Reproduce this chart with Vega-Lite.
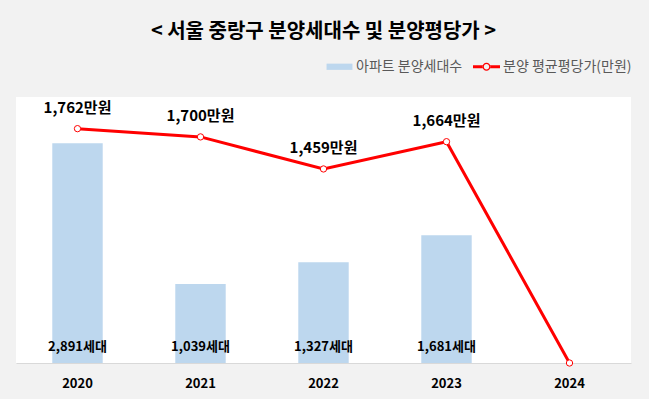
{
  "$schema": "https://vega.github.io/schema/vega-lite/v6.json",
  "width": 615,
  "height": 266,
  "autosize": {"type": "none"},
  "padding": {"left": 16, "top": 97, "right": 18, "bottom": 36},
  "background": "#f2f2f2",
  "title": {
    "text": "< 서울 중랑구 분양세대수 및 분양평당가 >",
    "font": "Noto Sans CJK KR",
    "fontSize": 20,
    "fontWeight": "bold",
    "color": "#000000",
    "anchor": "middle",
    "offset": 11
  },
  "config": {
    "view": {"fill": "#ffffff", "stroke": null},
    "font": "Noto Sans CJK KR"
  },
  "data": {
    "values": [
      {"year": "2020", "units": 2891, "price": 1762, "unitLabel": "2,891세대", "priceLabel": "1,762만원"},
      {"year": "2021", "units": 1039, "price": 1700, "unitLabel": "1,039세대", "priceLabel": "1,700만원"},
      {"year": "2022", "units": 1327, "price": 1459, "unitLabel": "1,327세대", "priceLabel": "1,459만원"},
      {"year": "2023", "units": 1681, "price": 1664, "unitLabel": "1,681세대", "priceLabel": "1,664만원"},
      {"year": "2024", "units": 0, "price": 0, "unitLabel": "", "priceLabel": ""}
    ]
  },
  "encoding": {
    "x": {
      "field": "year",
      "type": "nominal",
      "scale": {"paddingInner": 0.59, "paddingOuter": 0.295},
      "axis": {
        "title": null,
        "labelAngle": 0,
        "labelFont": "Noto Sans CJK KR",
        "labelFontSize": 13,
        "labelFontWeight": "bold",
        "labelColor": "#000000",
        "domainColor": "#d9d9d9",
        "domainWidth": 1,
        "ticks": false,
        "tickSize": 0,
        "labelPadding": 14
      }
    }
  },
  "layer": [
    {
      "mark": {"type": "bar"},
      "encoding": {
        "y": {"field": "units", "type": "quantitative", "scale": {"domain": [0, 3500], "nice": false}, "axis": null},
        "color": {
          "datum": "아파트 분양세대수",
          "type": "nominal",
          "scale": {"domain": ["아파트 분양세대수", "분양 평균평당가(만원)"], "range": ["#bdd7ee", "#ff0000"]},
          "legend": {
            "orient": "none",
            "legendX": 310,
            "legendY": -44,
            "direction": "horizontal",
            "title": null,
            "symbolSize": 729,
            "labelFont": "Noto Sans CJK KR",
            "labelFontSize": 14,
            "labelColor": "#595959",
            "labelOffset": 3,
            "columnPadding": 10,
            "encode": {
              "symbols": {
                "update": {
                  "shape": {"signal": "datum.value == '아파트 분양세대수' ? 'M-0.96,-0.23H0.96V0.23H-0.96Z' : 'M-1,-0.11H-0.28V0.11H-1Z M0.28,-0.11H1V0.11H0.28Z M-0.3,0A0.3,0.3 0 1,0 0.3,0A0.3,0.3 0 1,0 -0.3,0Z M-0.2,0A0.2,0.2 0 1,1 0.2,0A0.2,0.2 0 1,1 -0.2,0Z'"},
                  "fill": {"signal": "datum.value == '아파트 분양세대수' ? '#bdd7ee' : '#ff0000'"},
                  "stroke": {"value": "transparent"},
                  "strokeWidth": {"value": 0},
                  "opacity": {"value": 1},
                  "fillOpacity": {"value": 1}
                }
              }
            }
          }
        }
      }
    },
    {
      "mark": {"type": "text", "font": "Noto Sans CJK KR", "fontSize": 13, "fontWeight": "bold", "color": "#000000", "baseline": "middle", "dy": -16},
      "encoding": {
        "y": {"datum": 0, "type": "quantitative", "scale": {"domain": [0, 3500], "nice": false}, "axis": null},
        "text": {"field": "unitLabel"}
      }
    },
    {
      "mark": {"type": "line", "strokeWidth": 3, "point": {"filled": false, "fill": "#ffffff", "size": 40, "strokeWidth": 1}},
      "encoding": {
        "y": {"field": "price", "type": "quantitative", "scale": {"domain": [0, 2000], "nice": false}, "axis": null},
        "color": {"datum": "분양 평균평당가(만원)", "type": "nominal"}
      }
    },
    {
      "mark": {"type": "text", "font": "Noto Sans CJK KR", "fontSize": 15, "fontWeight": "bold", "color": "#000000", "baseline": "middle", "dy": -21},
      "encoding": {
        "y": {"field": "price", "type": "quantitative", "scale": {"domain": [0, 2000], "nice": false}, "axis": null},
        "text": {"field": "priceLabel"}
      }
    }
  ],
  "resolve": {"scale": {"y": "independent"}}
}
